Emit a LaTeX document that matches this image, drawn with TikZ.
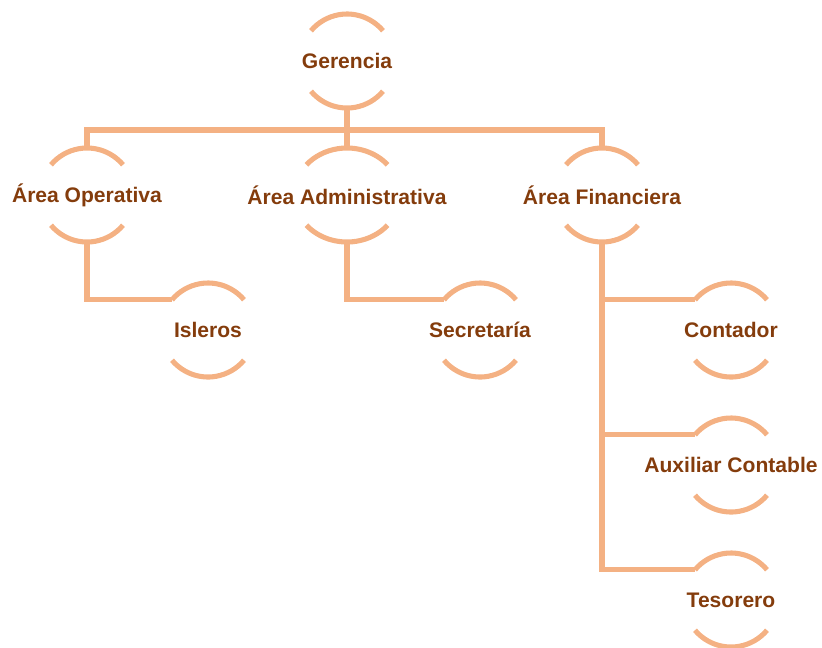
\documentclass[tikz,border=0pt]{standalone}
\usepackage{fontspec}
\setmainfont{Liberation Sans}
\usepackage{xcolor}
\usepackage{tikz}
\usetikzlibrary{positioning}

\definecolor{linea}{HTML}{F4B183}
\definecolor{texto}{HTML}{843C0C}

\begin{document}
\begin{tikzpicture}[x=0.75pt,y=-0.75pt]
        \tikzstyle{puesto}=[circle,minimum size=70.5pt,inner sep=0pt,outer sep=0pt]
        \tikzstyle{every label}=[text=texto,font=\fontsize{15.8}{18}\selectfont\bfseries]
        \tikzstyle{conector}=[draw=linea,line width=3.8pt]
        \useasboundingbox (0,0) rectangle (822,647);
        \node[puesto,label=center:Gerencia] (Ger) at (347,61) {};
        \node[puesto,label=center:Área Operativa] (Op) at (87,195) {};
        \node[puesto,label=center:Área Administrativa] (Adm) at (347,195) {};
        \node[puesto,label=center:Área Financiera] (Fin) at (602,195) {};
        \node[puesto,label=center:Isleros] (Isl) at (208,330) {};
        \node[puesto,label=center:Secretaría] (Sec) at (480,330) {};
        \node[puesto,label=center:Contador] (Cont) at (731,330) {};
        \node[puesto,label=center:Auxiliar Contable] (Aux) at (731,465) {};
        \node[puesto,label=center:Tesorero] (Tes) at (731,600) {};
        \coordinate (bus) at (347,130);
        % arcos de cada puesto (Adm algo mas ancho)
        \foreach \n/\rx in {Ger/35.25,Op/35.25,Adm/39.75,Fin/35.25,Isl/35.25,Sec/35.25,Cont/35.25,Aux/35.25,Tes/35.25} {
            \draw[conector] ([shift={(40:\rx pt and 35.25pt)}]\n.center) arc[start angle=40,end angle=140,x radius=\rx pt,y radius=35.25pt];
            \draw[conector] ([shift={(220:\rx pt and 35.25pt)}]\n.center) arc[start angle=220,end angle=320,x radius=\rx pt,y radius=35.25pt];
        }
        % lineas de mando
        \draw[conector] (Ger.south) -- (Adm.north);
        \draw[conector,line join=miter] (Op.north) -- (Op.north |- bus) -- (Fin.north |- bus) -- (Fin.north);
        \draw[conector,line join=miter] (Op.south) |- (Isl.140);
        \draw[conector,line join=miter] (Adm.south) |- (Sec.140);
        \draw[conector,line join=miter] (Fin.south) |- (Cont.140);
        \draw[conector,line join=miter] (Fin.south) |- (Aux.140);
        \draw[conector,line join=miter] (Fin.south) |- (Tes.140);
    \end{tikzpicture}
\end{document}
